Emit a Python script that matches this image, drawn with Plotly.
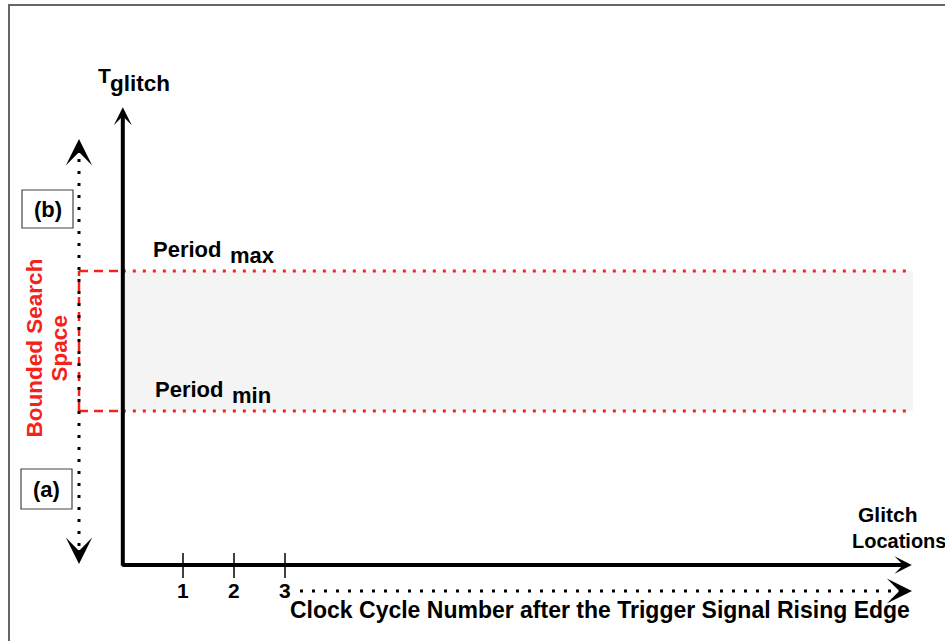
import plotly.graph_objects as go

W, H = 945, 641

# ---------------- data ----------------
cycle_ticks = [1, 2, 3]
cycle_tick_labels = ["1", "2", "3"]
period_min = 1.1          # T_glitch units
period_max = 2.1
x_axis_end = 15.29        # cycles (tip of x-axis arrow)
y_axis_end = 3.27         # T_glitch units (tip of y-axis arrow)
y_axis_at = -0.18         # cycle position of the vertical axis
band_end = 15.31          # right end of the bounded band
region_labels = ["(a)", "(b)"]

# ---------------- scale helpers (layout only) ----------------
X0_PX, PX_PER_CYCLE = 132, 51
Y0_PX, PX_PER_UNIT = 565, 140


def fx(px):
    return (px - X0_PX) / PX_PER_CYCLE


def fy(py):
    return (Y0_PX - py) / PX_PER_UNIT


x_range = [fx(0), fx(W)]
y_range = [fy(H), fy(0)]

FONT = "Liberation Sans, Arial, sans-serif"
RED = "#f5221b"
BLACK = "#000000"

fig = go.Figure()
# invisible trace to establish axes
fig.add_trace(go.Scatter(x=[x_range[0]], y=[y_range[0]], mode="markers",
                         marker=dict(opacity=0), showlegend=False, hoverinfo="skip"))

shapes = []
annotations = []

# outer frame (top and left edges)
shapes.append(dict(type="line", xref="paper", yref="paper", x0=8 / W, x1=1, y0=1 - 5 / H, y1=1 - 5 / H,
                   line=dict(color="#666666", width=2)))
shapes.append(dict(type="line", xref="paper", yref="paper", x0=9 / W, x1=9 / W, y0=1 - 4 / H, y1=0,
                   line=dict(color="#666666", width=2)))

# bounded band
shapes.append(dict(type="rect", x0=y_axis_at, x1=band_end, y0=period_min, y1=period_max,
                   fillcolor="#f4f4f4", line=dict(width=0), layer="below"))

search_x = fx(79)
for p in (period_min, period_max):
    shapes.append(dict(type="line", x0=y_axis_at, x1=band_end, y0=p, y1=p,
                       line=dict(color=RED, width=3, dash="3px,7px")))
    shapes.append(dict(type="line", x0=search_x, x1=y_axis_at, y0=p, y1=p,
                       line=dict(color=RED, width=2.5, dash="9px,6px")))
shapes.append(dict(type="line", x0=search_x, x1=search_x, y0=period_min, y1=period_max,
                   line=dict(color=RED, width=2.5, dash="9px,6px")))

# left dotted double arrow (search direction)
arr_top, arr_bot = fy(139), fy(564)
shapes.append(dict(type="line", x0=search_x, x1=search_x, y0=fy(564 - 18), y1=fy(139 + 18),
                   line=dict(color=BLACK, width=3, dash="3px,9px")))
for tip, tail in ((arr_top, fy(139 + 9)), (arr_bot, fy(564 - 9))):
    annotations.append(dict(x=search_x, y=tip, ax=search_x, ay=tail, xref="x", yref="y",
                            axref="x", ayref="y", text="", showarrow=True, arrowhead=3,
                            arrowsize=2.2, arrowwidth=2, arrowcolor=BLACK))

# bottom dotted arrow
dot_y = fy(591)
shapes.append(dict(type="line", x0=fx(300), x1=fx(912 - 16), y0=dot_y, y1=dot_y,
                   line=dict(color=BLACK, width=3, dash="3px,9px")))
annotations.append(dict(x=fx(912), y=dot_y, ax=fx(903), ay=dot_y, xref="x", yref="y",
                        axref="x", ayref="y", text="", showarrow=True, arrowhead=3,
                        arrowsize=2.1, arrowwidth=2, arrowcolor=BLACK))

# main axes (solid arrows)
annotations.append(dict(x=y_axis_at, y=y_axis_end, ax=y_axis_at, ay=-0.016, xref="x", yref="y",
                        axref="x", ayref="y", text="", showarrow=True, arrowhead=3,
                        arrowsize=0.75, arrowwidth=4, arrowcolor=BLACK))
annotations.append(dict(x=x_axis_end, y=0, ax=y_axis_at - 0.04, ay=0, xref="x", yref="y",
                        axref="x", ayref="y", text="", showarrow=True, arrowhead=3,
                        arrowsize=0.72, arrowwidth=4, arrowcolor=BLACK))

# ticks
for c, lab in zip(cycle_ticks, cycle_tick_labels):
    shapes.append(dict(type="line", x0=c, x1=c, y0=fy(553), y1=fy(578),
                       line=dict(color=BLACK, width=1.5)))
    annotations.append(dict(x=c, y=fy(590.8), xref="x", yref="y", text="<b>%s</b>" % lab,
                            showarrow=False, font=dict(family=FONT, size=21, color=BLACK)))


def txt(text, px, py, size, xanchor="center", color=BLACK, angle=0):
    annotations.append(dict(x=fx(px), y=fy(py), xref="x", yref="y", text="<b>%s</b>" % text,
                            showarrow=False, xanchor=xanchor, yanchor="middle",
                            textangle=angle, font=dict(family=FONT, size=size, color=color)))


# labels
txt("T", 95.5, 75.5, 21, xanchor="left")
txt("glitch", 107.5, 83.5, 22.5, xanchor="left")
txt("Period", 150.5, 249.4, 22, xanchor="left")
txt("max", 227.5, 255.4, 22, xanchor="left")
txt("Period", 152.5, 389.1, 22, xanchor="left")
txt("min", 230, 395, 22, xanchor="left")
txt("Glitch", 888, 514.5, 21)
txt("Locations", 898.5, 540.5, 20)
txt("Clock Cycle Number after the Trigger Signal Rising Edge", 599.5, 610.2, 23)
txt("Bounded Search", 34.4, 348, 22.5, color=RED, angle=-90)
txt("Space", 59.4, 348, 22.5, color=RED, angle=-90)

# (a)/(b) boxes
for lab, (x0, y0, x1, y1) in zip(region_labels, [(21, 469, 72, 509), (22, 190, 73, 228)]):
    shapes.append(dict(type="rect", x0=fx(x0), x1=fx(x1), y0=fy(y0), y1=fy(y1),
                       line=dict(color="#444444", width=1.2), fillcolor="white"))
    txt(lab, (x0 + x1) / 2, (y0 + y1) / 2 + 0.5, 22)

fig.update_layout(
    width=W, height=H, margin=dict(l=0, r=0, t=0, b=0),
    paper_bgcolor="white", plot_bgcolor="white",
    xaxis=dict(range=x_range, visible=False, fixedrange=True),
    yaxis=dict(range=y_range, visible=False, fixedrange=True),
    shapes=shapes, annotations=annotations, showlegend=False,
)

fig.write_html("out.html", config={"displayModeBar": False},
               post_script="document.body.style.margin='0';document.body.style.overflow='hidden';")
